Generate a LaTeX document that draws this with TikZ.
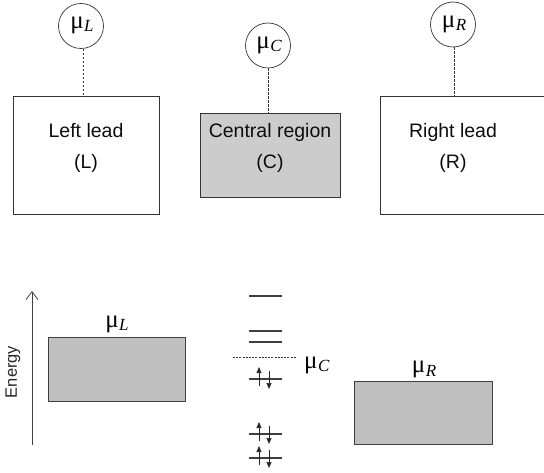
\documentclass[tikz,border=0pt]{standalone}
\usepackage{fontspec}
\setmainfont{Liberation Sans}
\newfontfamily\seriffam{Liberation Serif}
\usetikzlibrary{arrows.meta}
\newcommand{\mulab}[1]{{\seriffam\fontsize{25}{25}\selectfont μ\kern0.5pt\raisebox{-0.12em}{\fontsize{17}{17}\selectfont\itshape #1}}}
\begin{document}
\begin{tikzpicture}[x=1pt,y=-1pt,
  leadbox/.style={draw=black!80,line width=0.9pt,fill=white,inner sep=0pt},
  centbox/.style={draw=black!80,line width=0.9pt,fill=black!20,inner sep=0pt},
  bandbox/.style={draw=black!75,line width=0.9pt,fill=black!25,inner sep=0pt},
  lbl/.style={align=center,font=\fontsize{19.5}{31}\selectfont,text=black!95,inner sep=0pt},
  mucirc/.style={circle,draw=black!80,line width=0.7pt,minimum size=45pt,inner sep=0pt},
  mutxt/.style={inner sep=0pt},
  dashconn/.style={draw=black!80,line width=0.7pt,dash pattern=on 2.5pt off 1.5pt},
  level/.style={draw=black!75,line width=1.3pt},
  spin/.style={draw=black!85,line width=0.6pt,-{Triangle[length=6pt,width=5pt]}}
]
\useasboundingbox (0,0) rectangle (544,473);
% top row
\node[leadbox,minimum width=146pt,minimum height=118pt] (L) at (86,155) {};
\node[lbl] (Lt) at (86,147.5) {Left lead\\(L)};
\node[centbox,minimum width=140pt,minimum height=84pt] (C) at (270,155) {};
\node[lbl] (Ct) at (270,147.5) {Central region\\(C)};
\node[leadbox,minimum width=168pt,minimum height=118pt] (R) at (464,155) {};
\node[lbl] (Rt) at (453,147.5) {Right lead\\(R)};
\node[mucirc] (muL) at (81,26) {};
\node[mutxt] (muLt) at (82,25) {\mulab{L}};
\node[mucirc] (muC) at (268,45.5) {};
\node[mutxt] (muCt) at (269,45) {\mulab{C}};
\node[mucirc] (muR) at (453,24.5) {};
\node[mutxt] (muRt) at (454,24) {\mulab{R}};
\coordinate (Ltop) at (83,96);
\coordinate (Ctop) at (268,113);
\coordinate (Rtop) at (454,96);
\draw[dashconn] (muL.south -| Ltop) -- (Ltop);
\draw[dashconn] (muC.south -| Ctop) -- (Ctop);
\draw[dashconn] (muR.south -| Rtop) -- (Rtop);
% bottom: energy diagram
\coordinate (e0) at (32,445);
\coordinate (e1) at (32,291);
\draw[black!75,line width=0.8pt,-{Straight Barb[length=8pt,width=12pt,line width=0.8pt]}] (e0) -- (e1);
\node[rotate=90,font=\fontsize{16.5}{16.5}\selectfont,text=black!85,inner sep=0pt] (en) at (13,372) {Energy};
\node[bandbox,minimum width=137pt,minimum height=64pt] (bL) at (116.5,369) {};
\node[mutxt,anchor=base] (bmuL) at (117,327) {\mulab{L}};
\node[bandbox,minimum width=138pt,minimum height=63pt] (bR) at (423,412.5) {};
\node[mutxt,anchor=base] (bmuR) at (424,373) {\mulab{R}};
% levels
\foreach \n/\y in {a/296,b/331,c/342,d/379,e/434,f/458}{
  \coordinate (\n1) at (249,\y);
  \coordinate (\n2) at (282,\y);
  \draw[level] (\n1) -- (\n2);
}
\coordinate (fl1) at (233,357);
\coordinate (fl2) at (297,357);
\draw[dashconn,dash pattern=on 2pt off 1.2pt] (fl1) -- (fl2);
\node[mutxt,anchor=base west] (cmu) at (304,368) {\mulab{C}};
\foreach \n/\y in {d/379,e/434,f/458}{
  \coordinate (\n u0) at (259,\y+7);
  \coordinate (\n u1) at (259,\y-12);
  \coordinate (\n d0) at (269,\y-8);
  \coordinate (\n d1) at (269,\y+10);
  \draw[spin] (\n u0) -- (\n u1);
  \draw[spin] (\n d0) -- (\n d1);
}
\end{tikzpicture}
\end{document}
